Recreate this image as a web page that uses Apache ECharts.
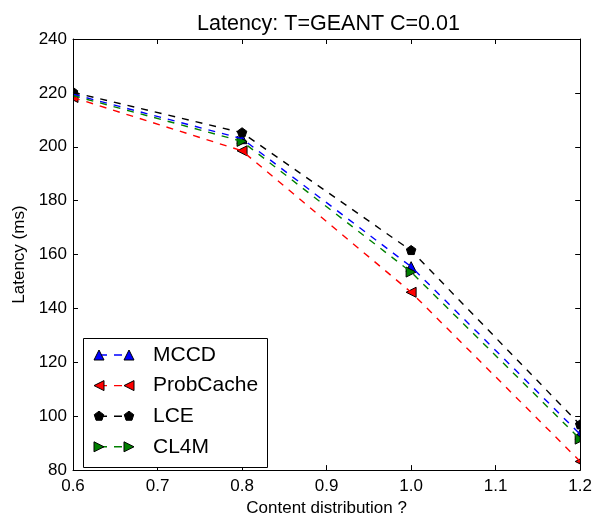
<!DOCTYPE html>
<html><head><meta charset="utf-8">
<script src="https://cdn.jsdelivr.net/npm/echarts@6/dist/echarts.min.js"></script>
<style>html,body{margin:0;padding:0;background:#fff}#c{width:595px;height:522px}</style>
</head><body><div id="c"></div>
<script>
var xValues = [0.6, 0.8, 1.0, 1.2];
var seriesNames = ['MCCD', 'ProbCache', 'LCE', 'CL4M'];
var mccd = [219.5, 203.0, 155.5, 93.3];
var probCache = [218.3, 198.5, 146.0, 83.2];
var lce = [220.2, 205.2, 161.5, 96.8];
var cl4m = [219.0, 202.0, 153.5, 91.5];
var xTicks = [0.6, 0.7, 0.8, 0.9, 1.0, 1.1, 1.2];
var yTicks = [80, 100, 120, 140, 160, 180, 200, 220, 240];

var allValues = [mccd, probCache, lce, cl4m];
var colors = ['#0000ff', '#ff0000', '#000000', '#008000'];
// marker shapes as unit polygons (centred at 0,0, radius 1)
var shapes = [
  [[0, -1], [1, 1], [-1, 1]],
  [[-1, 0], [1, -1], [1, 1]],
  [[0, -1], [0.951, -0.309], [0.588, 0.809], [-0.588, 0.809], [-0.951, -0.309]],
  [[1, 0], [-1, -1], [-1, 1]]
];
var R = 5;
var FONT = 'Liberation Sans, Arial, sans-serif';

// clip polygon to axis-aligned rectangle (Sutherland-Hodgman)
function clipPoly(pts, x0, y0, x1, y1) {
  var edges = [
    function (p) { return p[0] >= x0; }, function (p) { return p[0] <= x1; },
    function (p) { return p[1] >= y0; }, function (p) { return p[1] <= y1; }
  ];
  var inters = [
    function (a, b) { var t = (x0 - a[0]) / (b[0] - a[0]); return [x0, a[1] + t * (b[1] - a[1])]; },
    function (a, b) { var t = (x1 - a[0]) / (b[0] - a[0]); return [x1, a[1] + t * (b[1] - a[1])]; },
    function (a, b) { var t = (y0 - a[1]) / (b[1] - a[1]); return [a[0] + t * (b[0] - a[0]), y0]; },
    function (a, b) { var t = (y1 - a[1]) / (b[1] - a[1]); return [a[0] + t * (b[0] - a[0]), y1]; }
  ];
  var out = pts;
  for (var e = 0; e < 4; e++) {
    var inp = out; out = [];
    if (!inp.length) break;
    for (var k = 0; k < inp.length; k++) {
      var cur = inp[k], prev = inp[(k + inp.length - 1) % inp.length];
      var ci = edges[e](cur), pi = edges[e](prev);
      if (ci) { if (!pi) out.push(inters[e](prev, cur)); out.push(cur); }
      else if (pi) out.push(inters[e](prev, cur));
    }
  }
  return out;
}

var chart = echarts.init(document.getElementById('c'), null, {renderer: 'canvas'});

var series = [];
seriesNames.forEach(function (name, i) {
  var pts = xValues.map(function (x, j) { return [x, allValues[i][j]]; });
  series.push({
    name: name, type: 'line', data: pts, symbol: 'none',
    lineStyle: {color: colors[i], width: 1.4, type: [7, 7]},
    emphasis: {disabled: true}, animation: false, clip: true, z: 2
  });
  series.push({
    name: name, type: 'custom', data: pts, clip: true, z: 2, animation: false,
    renderItem: function (params, api) {
      var c = api.coord([api.value(0), api.value(1)]);
      var cs = params.coordSys;
      var poly = shapes[i].map(function (p) { return [c[0] + p[0] * R, c[1] + p[1] * R]; });
      poly = clipPoly(poly, cs.x, cs.y, cs.x + cs.width, cs.y + cs.height);
      return {
        type: 'polygon', shape: {points: poly},
        style: {fill: colors[i], stroke: '#000', lineWidth: 1}
      };
    }
  });
});

var graphics = [
  {type: 'rect', shape: {x: 83.5, y: 338.5, width: 184, height: 129}, style: {fill: '#fff', stroke: '#000', lineWidth: 1}, z: 30, silent: true}
];
seriesNames.forEach(function (name, i) {
  var cy = 355 + i * 30.6;
  graphics.push({type: 'line', shape: {x1: 99, y1: cy, x2: 129, y2: cy}, style: {stroke: colors[i], lineWidth: 1.4, lineDash: [8, 7]}, z: 31, silent: true});
  [99, 129].forEach(function (cx) {
    graphics.push({type: 'polygon', shape: {points: shapes[i].map(function (p) { return [cx + p[0] * R, cy + p[1] * R]; })},
      style: {fill: colors[i], stroke: '#000', lineWidth: 1}, z: 32, silent: true});
  });
  graphics.push({type: 'text', x: 153, y: cy, style: {text: name, font: '21px ' + FONT, fill: '#000', verticalAlign: 'middle', align: 'left'}, z: 32, silent: true});
});

function axisCommon(o) {
  return Object.assign({
    axisLine: {show: true, lineStyle: {color: '#000', width: 1}},
    axisTick: {show: true, inside: true, length: 5, lineStyle: {color: '#000', width: 1}},
    splitLine: {show: false}, z: 10
  }, o);
}

chart.setOption({
  animation: false,
  backgroundColor: '#fff',
  title: {text: 'Latency: T=GEANT C=0.01', left: 323.5, textAlign: 'center', top: 8, z: 20,
    textStyle: {fontFamily: FONT, fontSize: 21.5, fontWeight: 'normal', color: '#000'}},
  grid: {left: 73, right: 13, top: 39, bottom: 45, containLabel: false},
  xAxis: [
    axisCommon({type: 'value', min: xTicks[0], max: xTicks[xTicks.length - 1], interval: 0.1, position: 'bottom',
      name: 'Content distribution ?', nameLocation: 'middle', nameGap: 27,
      nameTextStyle: {fontFamily: FONT, fontSize: 17, color: '#000'},
      axisLabel: {fontFamily: FONT, fontSize: 17, color: '#000', margin: 8, formatter: function (v) { return v.toFixed(1); }}}),
    axisCommon({type: 'value', min: xTicks[0], max: xTicks[xTicks.length - 1], interval: 0.1, position: 'top',
      axisLabel: {show: false}})
  ],
  yAxis: [
    axisCommon({type: 'value', min: yTicks[0], max: yTicks[yTicks.length - 1], interval: 20, position: 'left',
      name: 'Latency (ms)', nameLocation: 'middle', nameGap: 44,
      nameTextStyle: {fontFamily: FONT, fontSize: 17, color: '#000'},
      axisLabel: {fontFamily: FONT, fontSize: 17, color: '#000', margin: 6}}),
    axisCommon({type: 'value', min: yTicks[0], max: yTicks[yTicks.length - 1], interval: 20, position: 'right',
      axisLabel: {show: false}})
  ],
  series: series,
  graphic: {elements: graphics}
});
</script></body></html>
